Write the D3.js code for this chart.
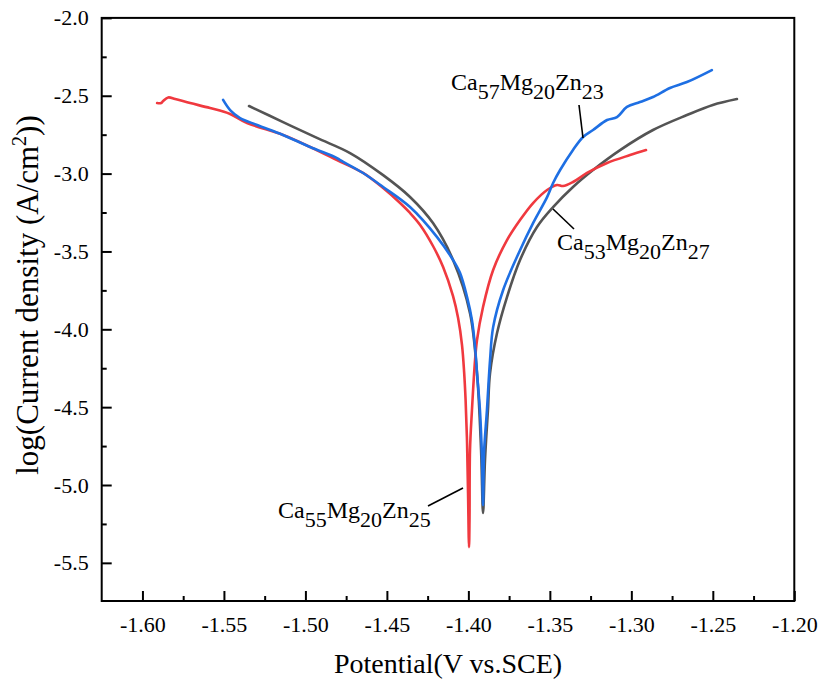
<!DOCTYPE html>
<html>
<head>
<meta charset="utf-8">
<script src="https://cdn.jsdelivr.net/npm/d3@7"></script>
<style>
  html, body { margin: 0; padding: 0; background: #fff; }
  svg text { font-family: "Liberation Serif", "Times New Roman", serif; }
</style>
</head>
<body>
<svg id="chart" width="819" height="689"></svg>
<script>
// Potentiodynamic polarization curves: potential (V vs. SCE) against log current density.
const seriesNames = ["Ca53Mg20Zn27", "Ca55Mg20Zn25", "Ca57Mg20Zn23"];

const potentialCa53 = [-1.5346, -1.5137, -1.4929, -1.4726, -1.4523, -1.4358, -1.4217, -1.4094, -1.3990, -1.3947, -1.3922, -1.3910, -1.3898, -1.3880, -1.3867, -1.3824, -1.3763, -1.3683, -1.3579, -1.3480, -1.3358, -1.3235, -1.3069, -1.2867, -1.2659, -1.2500, -1.2352];
const logCurrentCa53 = [-2.566, -2.669, -2.771, -2.868, -3.010, -3.150, -3.318, -3.555, -3.896, -4.281, -4.776, -5.180, -4.840, -4.519, -4.281, -4.024, -3.793, -3.555, -3.343, -3.215, -3.086, -2.977, -2.849, -2.720, -2.624, -2.559, -2.521];

const potentialCa55 = [-1.5910, -1.5885, -1.5873, -1.5842, -1.5799, -1.5707, -1.5585, -1.5462, -1.5358, -1.5137, -1.4971, -1.4806, -1.4646, -1.4523, -1.4419, -1.4358, -1.4296, -1.4217, -1.4155, -1.4094, -1.4063, -1.4039, -1.4026, -1.4017, -1.4008, -1.4002, -1.3996, -1.3993, -1.3990, -1.3978, -1.3959, -1.3947, -1.3910, -1.3848, -1.3763, -1.3683, -1.3603, -1.3517, -1.3456, -1.3419, -1.3358, -1.3272, -1.3149, -1.3008, -1.2910];
const logCurrentCa55 = [-2.547, -2.547, -2.534, -2.511, -2.521, -2.547, -2.579, -2.617, -2.675, -2.752, -2.829, -2.913, -2.996, -3.093, -3.189, -3.253, -3.330, -3.465, -3.600, -3.787, -3.928, -4.101, -4.275, -4.455, -4.731, -5.052, -5.399, -5.225, -4.776, -4.519, -4.198, -4.069, -3.857, -3.619, -3.427, -3.298, -3.189, -3.105, -3.073, -3.080, -3.054, -2.996, -2.932, -2.881, -2.849];

const potentialCa57 = [-1.5505, -1.5462, -1.5401, -1.5296, -1.5137, -1.4971, -1.4806, -1.4787, -1.4646, -1.4523, -1.4358, -1.4192, -1.4094, -1.4051, -1.4008, -1.3978, -1.3959, -1.3947, -1.3929, -1.3916, -1.3910, -1.3904, -1.3886, -1.3867, -1.3848, -1.3787, -1.3683, -1.3603, -1.3517, -1.3480, -1.3437, -1.3358, -1.3296, -1.3235, -1.3149, -1.3088, -1.3027, -1.2947, -1.2867, -1.2763, -1.2659, -1.2506];
const logCurrentCa57 = [-2.527, -2.592, -2.643, -2.688, -2.752, -2.829, -2.900, -2.913, -2.996, -3.086, -3.215, -3.408, -3.555, -3.639, -3.793, -3.941, -4.114, -4.281, -4.519, -4.840, -5.129, -4.795, -4.519, -4.198, -3.986, -3.749, -3.492, -3.318, -3.151, -3.060, -2.977, -2.848, -2.765, -2.720, -2.656, -2.637, -2.572, -2.540, -2.508, -2.450, -2.412, -2.335];

const xTickValues = [-1.60, -1.55, -1.50, -1.45, -1.40, -1.35, -1.30, -1.25, -1.20];
const yTickValues = [-2.0, -2.5, -3.0, -3.5, -4.0, -4.5, -5.0, -5.5];
const xMinorValues = [-1.575, -1.525, -1.475, -1.425, -1.375, -1.325, -1.275, -1.225];
const yMinorValues = [-2.25, -2.75, -3.25, -3.75, -4.25, -4.75, -5.25];

const SERIF = "'Liberation Serif', 'Times New Roman', serif";

const svg = d3.select("#chart").attr("font-family", SERIF);
const margin = { left: 101.7, top: 17.9, right: 819 - 794.3, bottom: 689 - 601 };
const width = 819 - margin.left - margin.right;
const height = 689 - margin.top - margin.bottom;

const x = d3.scaleLinear().domain([-1.625, -1.20]).range([0, width]);
const y = d3.scaleLinear().domain([-5.745, -2.0]).range([height, 0]);

const g = svg.append("g").attr("transform", `translate(${margin.left},${margin.top})`);

// Curves: grey first, then red, then blue on top
const curves = [
  { name: seriesNames[0], xs: potentialCa53, ys: logCurrentCa53, color: "#545454" },
  { name: seriesNames[1], xs: potentialCa55, ys: logCurrentCa55, color: "#f0393f" },
  { name: seriesNames[2], xs: potentialCa57, ys: logCurrentCa57, color: "#1e6fe3" }
];

const line = d3.line()
  .x(d => x(d[0]))
  .y(d => y(d[1]))
  .curve(d3.curveCatmullRom.alpha(0.5));

g.append("g").attr("class", "curves")
  .selectAll("path")
  .data(curves)
  .join("path")
  .attr("fill", "none")
  .attr("stroke", d => d.color)
  .attr("stroke-width", 2.6)
  .attr("stroke-linejoin", "round")
  .attr("stroke-linecap", "round")
  .attr("d", d => line(d.xs.map((v, i) => [v, d.ys[i]])));

// Axes with inward ticks
const xAxis = d3.axisBottom(x).tickValues(xTickValues).tickFormat(d => d.toFixed(2))
  .tickSize(-10).tickSizeOuter(0).tickPadding(15);
const yAxis = d3.axisLeft(y).tickValues(yTickValues).tickFormat(d => d.toFixed(1))
  .tickSize(-10).tickSizeOuter(0).tickPadding(13);

g.append("g").attr("transform", `translate(0,${height})`).call(xAxis);
g.append("g").call(yAxis);
g.append("g").attr("transform", `translate(0,${height})`)
  .call(d3.axisBottom(x).tickValues(xMinorValues).tickFormat("").tickSize(-5).tickSizeOuter(0));
g.append("g")
  .call(d3.axisLeft(y).tickValues(yMinorValues).tickFormat("").tickSize(-5).tickSizeOuter(0));

g.selectAll(".domain").remove();
g.selectAll("g[font-family]").attr("font-family", SERIF).attr("font-size", 22);
g.selectAll(".tick line").attr("stroke", "#000").attr("stroke-width", 2);
g.selectAll(".tick text").attr("fill", "#000");

// Frame
g.append("rect")
  .attr("x", 0).attr("y", 0)
  .attr("width", width).attr("height", height)
  .attr("fill", "none").attr("stroke", "#000").attr("stroke-width", 2);

// Axis titles
svg.append("text")
  .attr("x", 448).attr("y", 673)
  .attr("text-anchor", "middle")
  .attr("font-size", 28)
  .text("Potential(V vs.SCE)");

const yTitle = svg.append("text")
  .attr("transform", "translate(38,295) rotate(-90)")
  .attr("text-anchor", "middle")
  .attr("font-size", 31);
yTitle.append("tspan").text("log(Current density (A/cm");
yTitle.append("tspan").attr("dy", -12).attr("font-size", 20).text("2");
yTitle.append("tspan").attr("dy", 12).text("))");

// Composition labels with subscripts and leader lines
function labelParts(name) {
  const m = name.match(/Ca(\d+)Mg(\d+)Zn(\d+)/);
  return [["Ca", m[1]], ["Mg", m[2]], ["Zn", m[3]]];
}

function drawLabel(px, py, name) {
  const t = svg.append("text").attr("x", px).attr("y", py).attr("font-size", 24).attr("fill", "#000");
  labelParts(name).forEach((p, i) => {
    t.append("tspan").attr("dy", i === 0 ? 0 : -9).text(p[0]);
    t.append("tspan").attr("dy", 9).attr("font-size", 22).text(p[1]);
  });
}

drawLabel(451, 90, seriesNames[2]);
drawLabel(557, 250, seriesNames[0]);
drawLabel(278, 518, seriesNames[1]);

const leaders = [
  [[579, 105], [583, 138]],
  [[553, 209], [574, 229]],
  [[428, 506], [463, 488]]
];
svg.append("g").selectAll("line")
  .data(leaders)
  .join("line")
  .attr("x1", d => d[0][0]).attr("y1", d => d[0][1])
  .attr("x2", d => d[1][0]).attr("y2", d => d[1][1])
  .attr("stroke", "#000").attr("stroke-width", 1.6);
</script>
</body>
</html>
